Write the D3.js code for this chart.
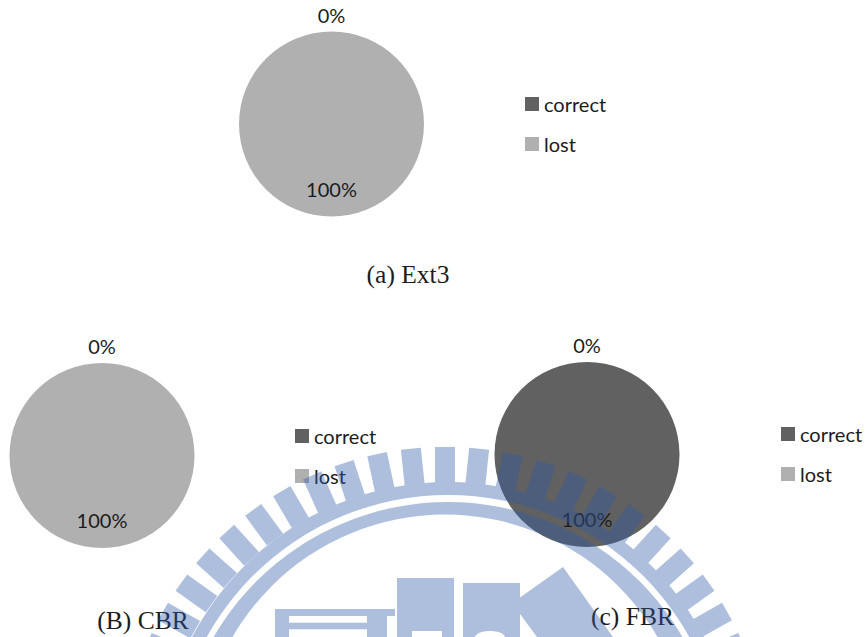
<!DOCTYPE html>
<html>
<head>
<meta charset="utf-8">
<script src="https://cdn.jsdelivr.net/npm/d3@7"></script>
<style>
  html, body { margin: 0; padding: 0; background: #fff; overflow: hidden; }
  svg { display: block; }
  .label, .legend-text { font-family: Lato, "Noto Sans", sans-serif; font-size: 20px; fill: #1c1c1c; }
  .caption { font-family: "Liberation Serif", serif; font-size: 25.5px; fill: #1c1c1c; }
</style>
</head>
<body>
<svg id="chart" width="866" height="637"></svg>
<script>
// Share of correct and lost files for each file system
const categories = ["correct", "lost"];
const panelNames = ["(a) Ext3", "(B) CBR", "(c) FBR"];
const ext3Values = [0, 100];
const cbrValues = [0, 100];
const fbrValues = [100, 0];
const colors = ["#616161", "#b0b0b0"];

const panels = [
  { name: panelNames[0], values: ext3Values, cx: 331.5, cy: 124, legendX: 525, legendY: 97, capX: 408, capY: 283 },
  { name: panelNames[1], values: cbrValues, cx: 102, cy: 455.5, legendX: 295, legendY: 429, capX: 143, capY: 629 },
  { name: panelNames[2], values: fbrValues, cx: 587, cy: 454.5, legendX: 781, legendY: 427, capX: 632.5, capY: 625 }
];

const radius = 92.5;
const svg = d3.select("#chart");
const color = d3.scaleOrdinal().domain(categories).range(colors);
const pie = d3.pie().sort(null).value(d => d.value);
const sliceArc = d3.arc().innerRadius(0).outerRadius(radius);
const outsideArc = d3.arc().innerRadius(radius + 16).outerRadius(radius + 16);
const insideArc = d3.arc().innerRadius(65.5).outerRadius(65.5);

panels.forEach(p => {
  const rows = categories.map((c, i) => ({ category: c, value: p.values[i] }));
  const arcs = pie(rows);
  const g = svg.append("g").attr("transform", `translate(${p.cx},${p.cy})`);

  g.selectAll("path").data(arcs).join("path")
    .attr("d", sliceArc)
    .attr("fill", d => color(d.data.category));

  g.selectAll("text").data(arcs).join("text")
    .attr("class", "label")
    .attr("text-anchor", "middle")
    .attr("dy", "0.35em")
    .attr("transform", d => {
      const a = d.value > 0 ? insideArc : outsideArc;
      return `translate(${a.centroid(d)})`;
    })
    .text(d => d3.format(".0%")(d.value / 100));

  const legend = svg.append("g").attr("transform", `translate(${p.legendX},${p.legendY})`);
  const row = legend.selectAll("g").data(categories).join("g")
    .attr("transform", (d, i) => `translate(0,${i * 40})`);
  row.append("rect").attr("width", 14).attr("height", 14).attr("fill", d => color(d));
  row.append("text").attr("class", "legend-text").attr("x", 19).attr("y", 15).text(d => d);

  svg.append("text").attr("class", "caption")
    .attr("x", p.capX).attr("y", p.capY).attr("text-anchor", "middle").text(p.name);
});

// University seal laid translucently over the whole page
const sealCx = 445, sealCy = 771;
const seal = svg.append("g").attr("fill", "#2f5bab").attr("opacity", 0.385);

// Rim band: the ring's two edges are not quite concentric
function ringPath(outer, inner) {
  const path = d3.path();
  [outer, inner].forEach(([x, y, r]) => {
    path.moveTo(x + r, y);
    path.arc(x, y, r, 0, 2 * Math.PI);
    path.closePath();
  });
  return path.toString();
}
seal.append("path").attr("fill-rule", "evenodd").attr("d", ringPath([448, 771, 289], [448, 771, 276]));
seal.append("path").attr("fill-rule", "evenodd").attr("d", ringPath([448, 773, 271], [445, 760, 245.5]));

const toothSteps = d3.range(-11, 12);
seal.selectAll("rect.tooth").data(toothSteps).join("rect")
  .attr("class", "tooth")
  .attr("x", -10).attr("y", -324).attr("width", 20).attr("height", 37)
  .attr("transform", d => `translate(${sealCx},${sealCy}) rotate(${d * 6.05})`);

// Building blocks at the seal's centre
seal.append("path").attr("fill-rule", "evenodd").attr("d",
  "M275 609H395V616H387V637H367V629.3H289V637H275Z M289 616V622.7H367V616Z");
seal.append("path").attr("fill-rule", "evenodd").attr("d",
  "M397 578H454V637H442V631H412V637H397Z");
seal.append("path").attr("d",
  "M463 583H520V637H505C504 633 497 631 490 631C483 631 476 633 475 637H463Z");
seal.append("path").attr("d", "M563 567L613 637H537L520 614V597.5Z");
</script>
</body>
</html>
